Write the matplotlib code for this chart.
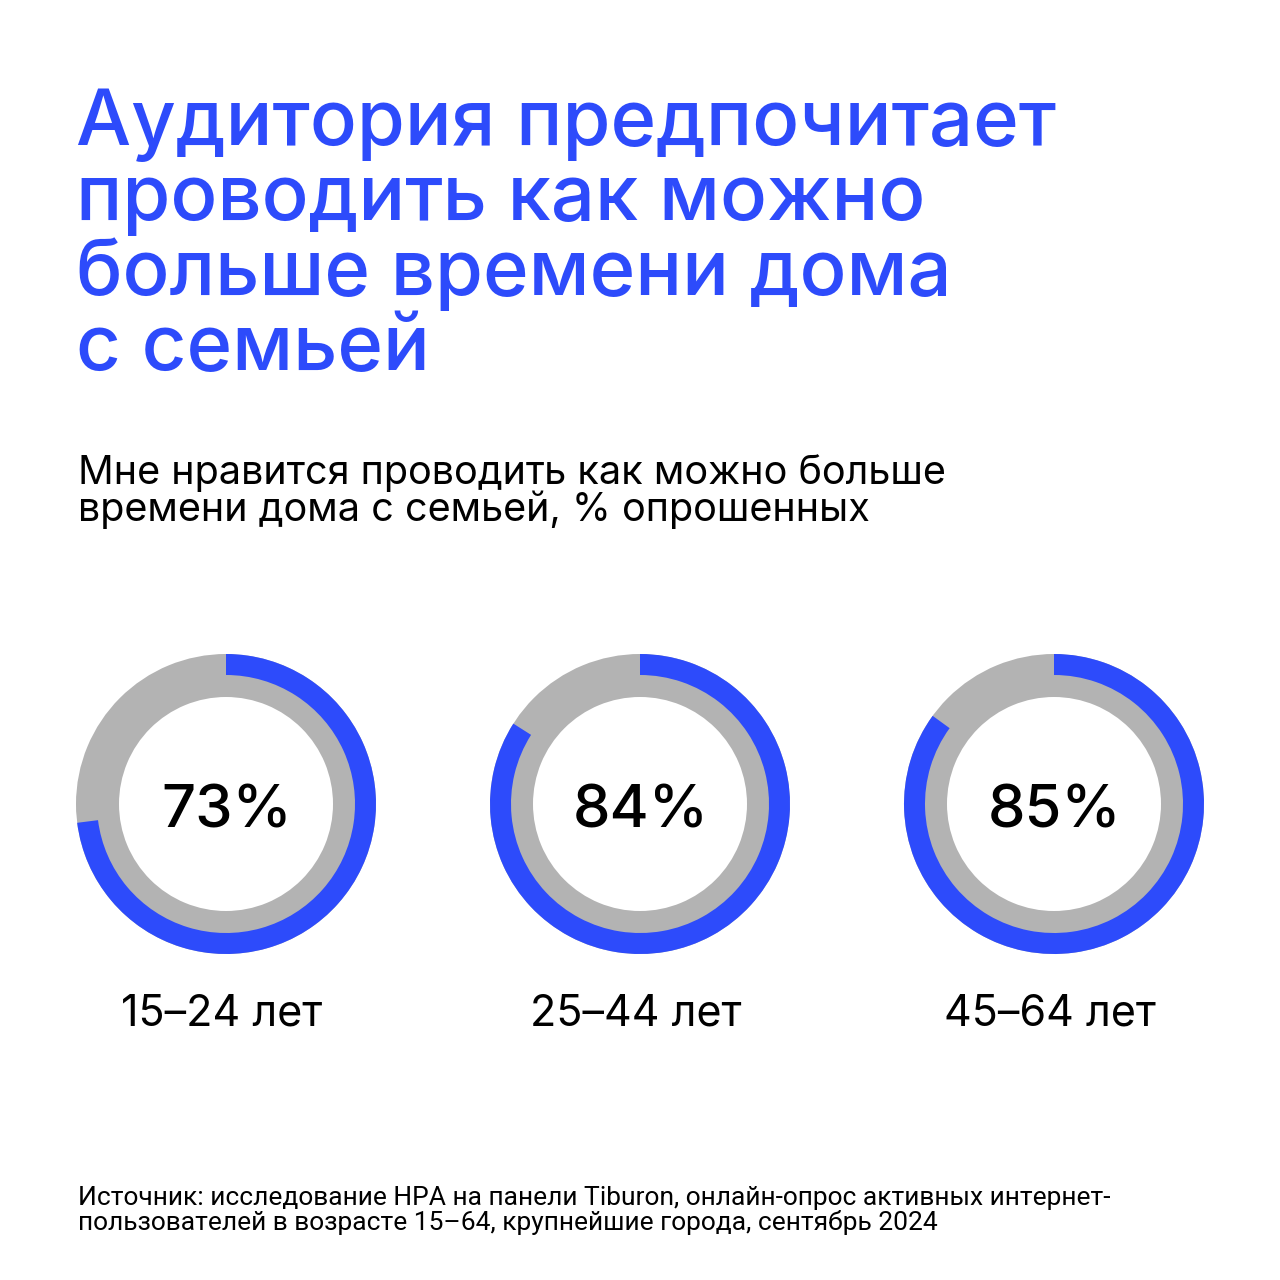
import matplotlib
matplotlib.use("Agg")
import matplotlib.pyplot as plt

title_lines = ["Аудитория предпочитает", "проводить как можно", "больше времени дома", "с семьей"]
subtitle_lines = ["Мне нравится проводить как можно больше", "времени дома с семьей, % опрошенных"]
categories = ["15–24 лет", "25–44 лет", "45–64 лет"]
values = [73, 84, 85]
source_lines = ["Источник: исследование НРА на панели Tiburon, онлайн-опрос активных интернет-",
                "пользователей в возрасте 15–64, крупнейшие города, сентябрь 2024"]

BLUE = "#2D4BFB"
GRAY = "#B3B3B3"
H = 1280

fig = plt.figure(figsize=(12.8, 12.8), dpi=100)
ax = fig.add_axes([0, 0, 1, 1])

centers_x = [226, 640, 1054]
cy = H - 804
for cx, v, lab in zip(centers_x, values, categories):
    ax.pie([100], colors=[GRAY], radius=150, center=(cx, cy), startangle=90,
           wedgeprops=dict(width=43, linewidth=0))
    ax.pie([v, 100 - v], colors=[BLUE, "none"], radius=150, center=(cx, cy),
           startangle=90, counterclock=False, wedgeprops=dict(width=21, linewidth=0))
    ax.text(cx + 1, H - 828, f"{v}%", ha="center", va="baseline", fontsize=43,
            family=["Inter", "DejaVu Sans"], fontweight="medium", color="black")
    ax.text(cx - 4, H - 1026, lab, ha="center", va="baseline", fontsize=31,
            family=["Inter", "DejaVu Sans"], color="black")

for i, line in enumerate(title_lines):
    ax.text(76, H - (145 + 75 * i), line, ha="left", va="baseline", fontsize=56,
            family=["Inter", "DejaVu Sans"], fontweight="medium", color=BLUE)

for i, line in enumerate(subtitle_lines):
    ax.text(78, H - (484 + 37 * i), line, ha="left", va="baseline", fontsize=28.5,
            family=["Inter", "DejaVu Sans"], color="black")

for i, line in enumerate(source_lines):
    ax.text(78, H - (1205 + 25 * i), line, ha="left", va="baseline", fontsize=19,
            family=["Roboto", "DejaVu Sans"], color="black")

ax.set_xlim(0, 1280)
ax.set_ylim(0, 1280)
ax.set_aspect("equal")
ax.axis("off")
fig.savefig("out.png", dpi=100, facecolor="white")
